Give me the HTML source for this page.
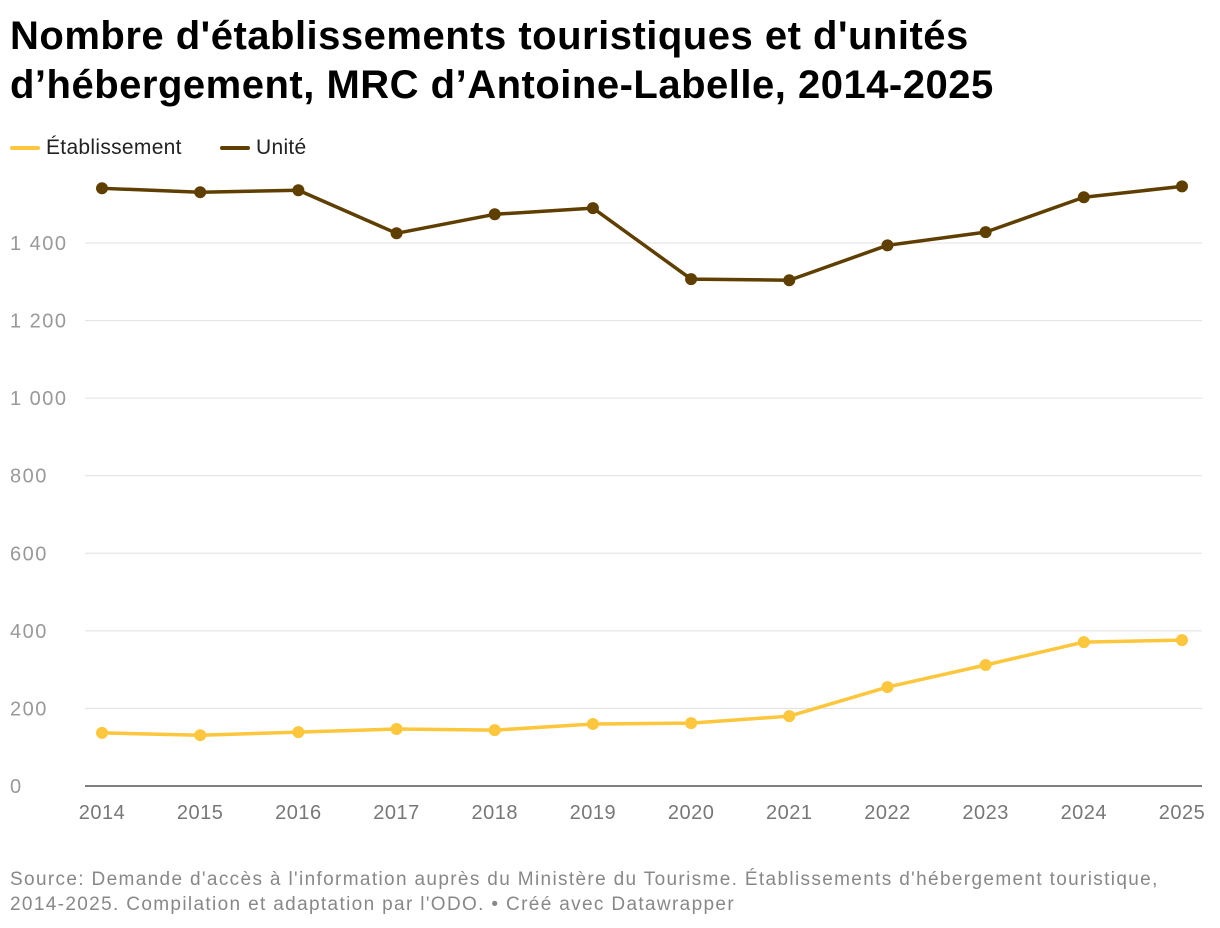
<!DOCTYPE html>
<html><head><meta charset="utf-8"><style>
body{margin:0;width:1220px;height:928px;background:#fff;font-family:"Liberation Sans",sans-serif;overflow:hidden}
h1{position:absolute;left:10px;top:12px;margin:0;font-size:40px;line-height:49px;font-weight:bold;color:#000;letter-spacing:0.5px}
.leg{position:absolute;top:136px;font-size:21px;color:#222;display:flex;align-items:center;letter-spacing:0.3px}
.leg span.sw{display:inline-block;width:30px;height:4px;border-radius:2px;margin-right:6px}
.src{position:absolute;left:10px;top:867px;font-size:19px;line-height:25px;color:#888;letter-spacing:1.35px;white-space:nowrap}
</style></head><body>
<h1>Nombre d'établissements touristiques et d'unités<br>d’hébergement, MRC d’Antoine-Labelle, 2014-2025</h1>
<div class="leg" style="left:10px"><span class="sw" style="background:#fcc63d"></span>Établissement</div>
<div class="leg" style="left:220px"><span class="sw" style="background:#5f3f00"></span>Unité</div>
<svg id="chart" width="1220" height="928" style="position:absolute;left:0;top:0"></svg>
<div class="src">Source: Demande d'accès à l'information auprès du Ministère du Tourisme. Établissements d'hébergement touristique,<br>2014-2025. Compilation et adaptation par l'ODO. • Créé avec Datawrapper</div>
<script>
const years=[2014,2015,2016,2017,2018,2019,2020,2021,2022,2023,2024,2025];
const unites=[1541,1531,1536,1425,1474,1490,1307,1304,1394,1428,1518,1546];
const etablissements=[137,131,139,147,144,160,162,180,255,312,371,376];
const yTicks=[0,200,400,600,800,1000,1200,1400];
const yTickLabels=["0","200","400","600","800","1 000","1 200","1 400"];
const NS="http://www.w3.org/2000/svg";
const svg=document.getElementById('chart');
const x=i=>102+i*(1182-102)/(years.length-1);
const y=v=>786-v*(786-243)/1400;
function mk(t,a){const e=document.createElementNS(NS,t);for(const k in a)e.setAttribute(k,a[k]);svg.appendChild(e);return e;}
yTicks.forEach((v,i)=>{
  const l=mk('line',{x1:85,x2:1202,y1:y(v),y2:y(v),stroke:v===0?'#333':'#e0e0e0','stroke-width':v===0?1.2:1});
  
  
  const t=mk('text',{x:10,y:y(v)+7,'font-size':20,fill:'#999','font-family':'Liberation Sans','letter-spacing':'1.5'});
  t.textContent=yTickLabels[i];
  
  
});
years.forEach((yr,i)=>{
  const t=mk('text',{x:x(i),y:819,'font-size':20,fill:'#777','text-anchor':'middle','font-family':'Liberation Sans','letter-spacing':'0.5'});
  t.textContent=yr;
  
  
});
function series(vals,col,name){
  const p=mk('polyline',{points:vals.map((v,i)=>x(i)+','+y(v)).join(' '),fill:'none',stroke:col,'stroke-width':3.5,'stroke-linejoin':'round'});
  
  
  vals.forEach((v,i)=>{
    const c=mk('circle',{cx:x(i),cy:y(v),r:6,fill:col});
    
    
  });
}
series(unites,'#5f3f00','unite');
series(etablissements,'#fcc63d','etablissement');
</script>
</body></html>
